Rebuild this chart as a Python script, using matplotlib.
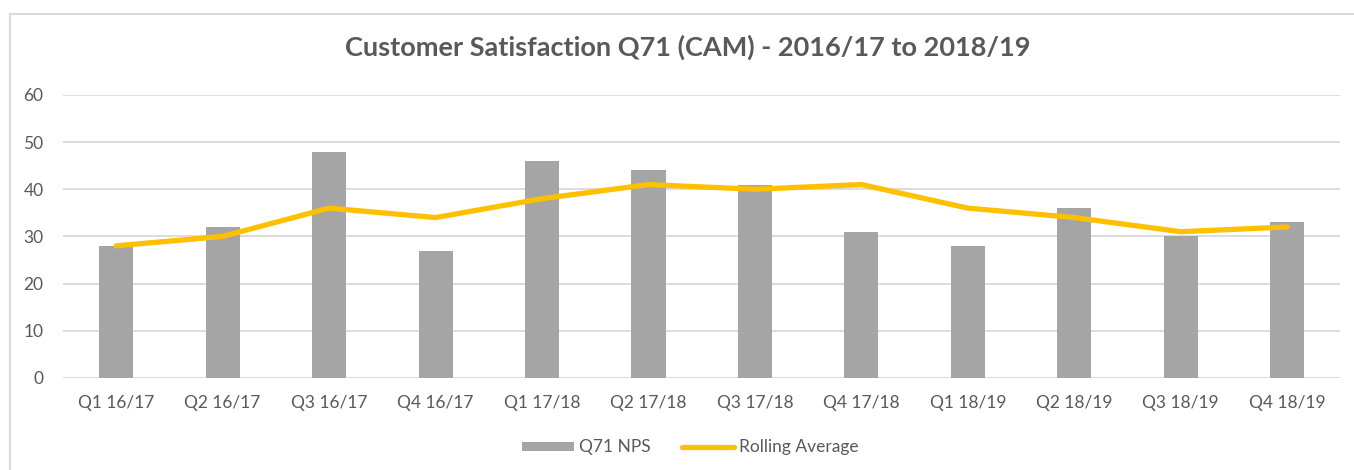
## Customer satisfaction Q71 (CAM) bar + rolling average chart
import numpy as np
import matplotlib
matplotlib.use("Agg")
import matplotlib.pyplot as plt
from matplotlib.patches import Rectangle

plt.rcParams['font.family'] = ['Lato', 'DejaVu Sans']

quarters = ["Q1 16/17", "Q2 16/17", "Q3 16/17", "Q4 16/17",
            "Q1 17/18", "Q2 17/18", "Q3 17/18", "Q4 17/18",
            "Q1 18/19", "Q2 18/19", "Q3 18/19", "Q4 18/19"]
nps = [28, 32, 48, 27, 46, 44, 41, 31, 28, 36, 30, 33]
rolling_avg = [28, 30, 36, 34, 38, 41, 40, 41, 36, 34, 31, 32]

text_col = "#595959"
grid_col = "#D9D9D9"

fig = plt.figure(figsize=(13.54, 4.70), dpi=100)
ax = fig.add_axes([0.0465, 0.196, 0.9435, 0.602])

x = np.arange(len(quarters))
bars = ax.bar(x, nps, width=0.32, color="#A5A5A5", label="Q71 NPS", zorder=2)
line, = ax.plot(x, rolling_avg, color="#FFC000", linewidth=3.8, solid_capstyle="round",
                label="Rolling Average", zorder=3)

ax.set_xlim(-0.5, len(quarters) - 0.5)
ax.set_ylim(0, 60)
ax.set_yticks(range(0, 61, 10))
ax.set_xticks(x)
ax.set_xticklabels(quarters)
ax.tick_params(axis="both", length=0, labelsize=12.5, colors=text_col)
ax.tick_params(axis="y", pad=14)
ax.tick_params(axis="x", pad=12)
ax.yaxis.grid(True, color=grid_col, linewidth=1.3, zorder=0)
ax.set_axisbelow(True)
for s in ax.spines.values():
    s.set_visible(False)

fig.text(0.508, 0.9, "Customer Satisfaction Q71 (CAM) - 2016/17 to 2018/19",
         ha="center", va="center", fontsize=19.5, fontweight="bold", color=text_col)

leg = fig.legend([bars, line], ["Q71 NPS", "Rolling Average"], loc="center",
                 bbox_to_anchor=(0.51, 0.048), ncol=2, frameon=False,
                 fontsize=12.5, handlelength=3.0, handleheight=0.45,
                 handletextpad=0.3, columnspacing=1.8)
for t in leg.get_texts():
    t.set_color(text_col)

# light frame around the chart area
fig.patches.append(Rectangle((10 / 1354, -0.1), 1.2, 1.1 - 14 / 470,
                             transform=fig.transFigure, fill=False,
                             edgecolor=grid_col, linewidth=1.5))

fig.savefig("out.png", dpi=100)
